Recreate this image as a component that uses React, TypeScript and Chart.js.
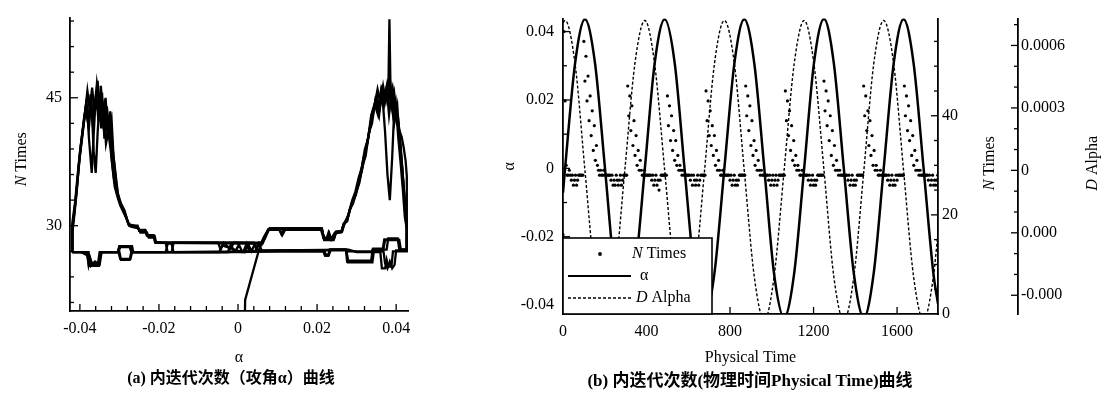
import { useEffect, useRef } from "react";
import { Chart, registerables } from "chart.js";

Chart.register(...registerables);

const SERIF = '"Liberation Serif", "Times New Roman", "DejaVu Serif", serif';
const CAPTION_FONT = '"Liberation Serif", "Noto Sans CJK SC", serif';

// ================= (a) N Times vs alpha =================
const alphaTickValuesA = [-0.04, -0.02, 0, 0.02, 0.04];
const alphaTickLabelsA = ["-0.04", "-0.02", "0", "0.02", "0.04"];
const nTickValuesA = [30, 45];

// [alpha, N Times] read along the trajectory, cycle by cycle
const loop0: [number, number][] = [
  [0.0016, 15], [0.0018, 21.3], [0.0055, 27.5], [0.0062, 27.9], [0.0069, 28.6], [0.0078, 29.6], [0.0104, 29.6],
  [0.011, 29.0], [0.0117, 29.6], [0.0212, 29.6], [0.0218, 28.5], [0.024, 28.5], [0.0246, 29.2], [0.0262, 29.3],
  [0.0267, 30.2], [0.0276, 30.5], [0.0282, 31.8], [0.029, 32.8], [0.0298, 33.6], [0.0306, 35.2], [0.0314, 36.6],
  [0.0322, 38.6], [0.033, 40.5], [0.0338, 42.6], [0.0346, 44.2], [0.0354, 43.0], [0.0361, 45.6], [0.0368, 44.0],
  [0.0375, 46.0], [0.038, 45.0], [0.0383, 54.2], [0.0386, 45.2], [0.0392, 43.0], [0.0399, 44.5], [0.0405, 40.5],
  [0.0411, 37.5], [0.0417, 34.2], [0.0422, 31.0], [0.0427, 29.6], [0.0427, 27.2],
  [0.041, 27.2], [0.0406, 28.4], [0.037, 28.4], [0.0366, 27.2], [0.034, 27.2], [0.0337, 25.8], [0.0276, 25.8],
  [0.0273, 27.2], [0.0232, 27.2], [0.0228, 26.5], [0.022, 26.5], [0.0216, 27.0], [0.005, 27.0], [0.0042, 27.8],
  [0.0034, 27.0], [0.0026, 27.8], [0.0018, 26.9], [-0.0163, 26.9], [-0.0168, 27.9], [-0.0178, 27.9], [-0.0183, 26.9],
  [-0.0265, 26.9], [-0.0268, 27.6], [-0.03, 27.6], [-0.0304, 26.9], [-0.0345, 26.9], [-0.035, 25.4], [-0.0375, 25.4],
  [-0.038, 26.9], [-0.0419, 26.9],
];
const loop1: [number, number][] = [
  [-0.0419, 26.9], [-0.0419, 29.8], [-0.0414, 31.6], [-0.0406, 35.2], [-0.04, 38.6], [-0.0393, 41.2], [-0.0386, 43.6],
  [-0.0379, 42.0], [-0.0373, 45.4], [-0.0367, 41.6], [-0.0361, 44.6], [-0.0355, 47.0], [-0.035, 43.2], [-0.0344, 45.6],
  [-0.0338, 40.2], [-0.0332, 44.0], [-0.0326, 41.6], [-0.032, 42.6], [-0.0315, 38.2], [-0.031, 36.2], [-0.0304, 33.8],
  [-0.0296, 32.6], [-0.0287, 31.8], [-0.028, 30.6], [-0.0275, 30.1], [-0.0256, 29.8], [-0.0249, 29.5], [-0.0235, 29.5],
  [-0.0231, 28.9], [-0.0214, 28.9], [-0.021, 28.1], [-0.0183, 28.0], [-0.0178, 26.9], [-0.0168, 26.9], [-0.0163, 28.0],
  [-0.005, 28.0], [-0.0044, 27.2], [-0.0036, 28.0], [-0.002, 27.3], [-0.001, 28.0], [0.006, 27.9], [0.0068, 28.6],
  [0.0078, 29.6], [0.0104, 29.6], [0.011, 29.0], [0.0117, 29.6], [0.0212, 29.6], [0.0218, 28.4], [0.0226, 28.4],
  [0.0231, 29.1], [0.0236, 28.4], [0.0246, 29.2], [0.0262, 29.4], [0.0268, 30.3], [0.0276, 30.6], [0.0283, 31.9],
  [0.0291, 32.6], [0.0299, 33.9], [0.0307, 35.0], [0.0315, 37.0], [0.0323, 38.2], [0.0331, 40.9], [0.0339, 42.0],
  [0.0347, 44.6], [0.0355, 43.2], [0.0362, 45.8], [0.0369, 44.2], [0.0376, 46.2], [0.0382, 43.0], [0.0389, 45.8],
  [0.0396, 42.2], [0.0403, 44.0], [0.0409, 39.8], [0.0415, 36.8], [0.0421, 33.0], [0.0427, 30.2], [0.0427, 27.0],
  [0.0392, 27.0], [0.0388, 25.2], [0.038, 25.2], [0.0376, 26.0], [0.0372, 25.0], [0.0364, 25.0], [0.036, 26.9],
  [0.03, 26.9], [0.028, 27.2], [0.0235, 27.2], [0.023, 26.6], [0.0222, 26.6], [0.0218, 27.1], [0.006, 27.1],
  [0.0052, 27.9], [0.0044, 27.0], [0.001, 27.0], [0.0002, 27.8], [-0.0006, 27.0], [-0.017, 26.9], [-0.027, 26.9],
  [-0.0274, 26.0], [-0.0296, 26.0], [-0.03, 26.9], [-0.035, 26.9], [-0.0354, 25.6], [-0.037, 25.6], [-0.0374, 26.2],
  [-0.0378, 25.4], [-0.0382, 26.9], [-0.0419, 26.9],
];
const loop2: [number, number][] = [
  [-0.0419, 26.9], [-0.0419, 30.4], [-0.0412, 32.8], [-0.0404, 36.8], [-0.0397, 39.6], [-0.039, 42.4], [-0.0383, 44.6],
  [-0.0377, 40.2], [-0.037, 36.2], [-0.0365, 40.8], [-0.0359, 45.8], [-0.0353, 42.2], [-0.0347, 46.4], [-0.0341, 42.8],
  [-0.0335, 45.0], [-0.0329, 40.6], [-0.0323, 43.4], [-0.0318, 39.6], [-0.0313, 37.2], [-0.0308, 35.0], [-0.0302, 33.2],
  [-0.0293, 32.0], [-0.0284, 31.2], [-0.0278, 30.4], [-0.0272, 29.9], [-0.0252, 29.7], [-0.0247, 29.2], [-0.023, 29.2],
  [-0.0226, 28.6], [-0.0212, 28.6], [-0.0208, 28.0], [0.004, 28.0], [0.0046, 27.3], [0.0054, 28.0], [0.0062, 28.0],
  [0.007, 28.8], [0.008, 29.7], [0.0212, 29.7], [0.0218, 28.3], [0.0242, 28.3], [0.0248, 29.3], [0.0263, 29.3],
  [0.027, 30.4], [0.0279, 31.2], [0.0287, 32.5], [0.0295, 33.4], [0.0303, 34.6], [0.0311, 36.2], [0.0319, 38.0],
  [0.0327, 39.6], [0.0335, 41.8], [0.0343, 43.4], [0.0351, 45.2], [0.0358, 43.6], [0.0365, 45.4], [0.0372, 41.0],
  [0.0378, 36.0], [0.0384, 33.0], [0.039, 38.0], [0.0396, 44.6], [0.0402, 42.0], [0.0408, 41.2], [0.0414, 40.4],
  [0.0419, 39.2], [0.0424, 37.6], [0.0427, 35.8], [0.0427, 27.2],
  [0.0412, 27.2], [0.0408, 28.3], [0.0372, 28.3], [0.0368, 27.3], [0.0342, 27.3], [0.0338, 25.9], [0.0278, 25.9],
  [0.0274, 27.1], [0.015, 27.1], [0.001, 26.9], [-0.004, 27.7], [-0.0048, 26.9], [-0.012, 26.9], [-0.027, 26.9],
  [-0.0274, 27.5], [-0.0298, 27.5], [-0.0302, 26.9], [-0.0346, 26.9], [-0.0352, 25.5], [-0.0362, 25.8],
  [-0.0372, 25.3], [-0.0378, 26.9], [-0.0419, 26.9],
];
const loop3: [number, number][] = [
  [-0.0419, 26.9], [-0.0419, 29.2], [-0.0415, 30.8], [-0.0408, 34.0], [-0.0402, 37.4], [-0.0395, 40.0], [-0.0388, 42.8],
  [-0.0381, 45.8], [-0.0375, 43.6], [-0.0369, 46.2], [-0.0363, 43.0], [-0.0357, 46.6], [-0.0351, 44.4], [-0.0346, 41.4],
  [-0.034, 43.8], [-0.0334, 39.6], [-0.0328, 41.0], [-0.0322, 38.8], [-0.0317, 36.6], [-0.0312, 34.6], [-0.0305, 33.4],
  [-0.0298, 32.4], [-0.029, 31.6], [-0.0282, 30.8], [-0.0276, 30.0], [-0.0254, 30.0], [-0.025, 29.4], [-0.0233, 29.4],
  [-0.0229, 28.8], [-0.0213, 28.8], [-0.0209, 28.0], [0.0058, 27.9], [0.0066, 28.7], [0.0076, 29.5], [0.0106, 29.5],
  [0.0112, 28.9], [0.0119, 29.5], [0.021, 29.5], [0.0216, 28.6], [0.0238, 28.6], [0.0244, 29.1], [0.0261, 29.2],
  [0.0266, 30.0], [0.0274, 30.6], [0.0281, 31.6], [0.0289, 33.0], [0.0297, 34.0], [0.0305, 35.6], [0.0313, 36.8],
  [0.0321, 39.0], [0.0329, 40.2], [0.0337, 43.0], [0.0345, 44.0], [0.0353, 46.0], [0.036, 44.4], [0.0367, 46.4],
  [0.0374, 44.6], [0.0381, 46.4], [0.0388, 44.0], [0.0395, 45.6], [0.0401, 43.2], [0.0407, 41.6], [0.0413, 38.0],
  [0.0419, 34.6], [0.0424, 31.8], [0.0427, 29.8], [0.0427, 27.1],
  [0.04, 27.1], [0.0396, 25.4], [0.039, 25.0], [0.0384, 25.8], [0.0378, 25.0], [0.0372, 25.6], [0.0368, 27.0],
  [0.0276, 27.0], [0.027, 27.2], [0.0232, 27.2], [0.0229, 26.5], [0.0221, 26.5], [0.0217, 27.0], [0.003, 27.0],
  [0.0022, 27.9], [0.0014, 27.0], [-0.003, 26.9], [-0.0268, 26.9], [-0.0272, 26.1], [-0.0298, 26.1], [-0.0302, 26.9],
  [-0.0347, 26.9], [-0.0352, 25.3], [-0.0377, 25.3], [-0.0382, 26.9], [-0.0419, 26.9],
];
const loop4: [number, number][] = [
  [-0.0419, 26.9], [-0.0419, 29.6], [-0.0413, 32.0], [-0.0405, 35.8], [-0.0398, 39.2], [-0.0391, 41.8], [-0.0384, 44.2],
  [-0.0377, 41.6], [-0.0371, 44.8], [-0.0365, 38.6], [-0.036, 36.2], [-0.0355, 41.0], [-0.0349, 45.2], [-0.0343, 42.4],
  [-0.0337, 44.8], [-0.0331, 41.2], [-0.0325, 42.0], [-0.0319, 37.6], [-0.0314, 35.6], [-0.0308, 34.2], [-0.03, 32.8],
  [-0.0291, 31.9], [-0.0283, 31.0], [-0.0277, 30.2], [-0.0255, 29.9], [-0.0249, 29.4], [-0.0234, 29.4], [-0.023, 28.8],
  [-0.0211, 28.8], [-0.0207, 28.0], [0.0059, 28.0], [0.0067, 28.7], [0.0077, 29.6], [0.0212, 29.6], [0.0217, 28.5],
  [0.0224, 28.5], [0.0229, 29.2], [0.0234, 28.5], [0.0243, 28.5], [0.0249, 29.3], [0.0263, 29.3], [0.0269, 30.2],
  [0.0277, 30.8], [0.0285, 32.2], [0.0293, 33.2], [0.0301, 34.4], [0.0309, 35.8], [0.0317, 37.8], [0.0325, 39.4],
  [0.0333, 41.2], [0.0341, 43.6], [0.0349, 44.8], [0.0357, 43.0], [0.0364, 46.0], [0.0371, 45.0], [0.0378, 46.6],
  [0.0384, 45.0], [0.0391, 46.2], [0.0398, 43.8], [0.0405, 42.6], [0.0411, 39.6], [0.0417, 36.0], [0.0422, 32.8],
  [0.0427, 30.4], [0.0427, 27.2],
  [0.0408, 27.2], [0.0404, 28.5], [0.038, 28.5], [0.0376, 27.2], [0.0344, 27.2], [0.034, 25.7], [0.0278, 25.7],
  [0.0274, 27.2], [0.01, 27.1], [-0.001, 27.0], [-0.0018, 27.8], [-0.0026, 26.9], [-0.0268, 26.9], [-0.0272, 27.6],
  [-0.03, 27.6], [-0.0304, 26.9], [-0.0348, 26.9], [-0.0352, 25.6], [-0.037, 25.6], [-0.0376, 26.4], [-0.0396, 26.9],
];
const loopsA = [loop0, loop1, loop2, loop3, loop4];

// ================= (b) vs Physical Time =================
const timeTickValues = [0, 400, 800, 1200, 1600];
const alphaTickValuesB = [-0.04, -0.02, 0, 0.02, 0.04];
const alphaTickLabelsB = ["-0.04", "-0.02", "0", "0.02", "0.04"];
const nTickValuesB = [0, 20, 40];
const dAlphaTickValues = [-0.0006, -0.0003, 0, 0.0003, 0.0006];
const dAlphaTickLabels = ["-0.000", "0.000", "0", "0.0003", "0.0006"];

const sampleTimes = [
  0, 10, 58, 105, 153, 201, 248, 296, 344, 392, 439, 487, 535, 582, 630, 678, 725, 773, 821, 868,
  916, 964, 1011, 1059, 1107, 1155, 1202, 1250, 1297, 1345, 1393, 1441, 1488, 1536, 1584, 1631, 1679, 1727, 1774, 1796,
];
const alphaSeries = [
  -0.0071, 0.0, 0.0308, 0.0436, 0.0309, 0.0001, -0.0308, -0.0436, -0.0308, 0.0, 0.0307, 0.0436, 0.0308, 0.0, -0.0308,
  -0.0437, -0.0308, 0.0001, 0.0308, 0.0436, 0.0308, 0.0, -0.0309, -0.0436, -0.0308, 0.0, 0.0308, 0.0437, 0.0308,
  -0.0001, -0.0308, -0.0436, -0.0307, 0.0, 0.0308, 0.0436, 0.0308, 0.0, -0.0308, -0.0396,
];
const dAlphaSeries = [
  0.00071, 0.00072, 0.00051, 0.0, -0.00051, -0.00072, -0.00051, 0.0, 0.00051, 0.00072, 0.00051, 0.0, -0.00051,
  -0.00072, -0.00051, 0.0, 0.00051, 0.00072, 0.00051, 0.0, -0.00051, -0.00072, -0.00051, 0.0, 0.00051, 0.00072,
  0.00051, 0.0, -0.00051, -0.00072, -0.00051, 0.0, 0.00051, 0.00072, 0.00051, 0.0, -0.00051, -0.00072, -0.00051,
  -0.0003,
];
const nTimesStep = 5;
const nTimesSeries = [
  16, 57, 43, 30, 28, 28, 29, 28, 27, 28, 26, 27, 28, 26, 27, 28, 28, 28, 28, 28,
  55, 47, 52, 43, 48, 39, 44, 36, 41, 33, 38, 31, 34, 30, 29,
  28, 29, 28, 28, 29, 28, 28, 28, 28, 28, 28, 27, 28, 26, 27, 26, 28, 27, 26, 27, 28, 26, 27, 28, 28, 28, 28,
  46, 40, 44, 37, 42, 34, 39, 32, 36, 30, 33, 29, 31, 29,
  28, 28, 29, 28, 28, 28, 28, 28, 28, 27, 28, 26, 27, 28, 26, 27, 25, 27, 28, 28, 28, 28, 28, 28,
  44, 38, 42, 35, 40, 33, 37, 31, 35, 30, 32, 29, 30, 29,
  28, 29, 28, 28, 28, 28, 28, 28, 27, 28, 26, 28, 27, 26, 27, 28, 26, 27, 28, 28, 28, 28, 28,
  45, 39, 43, 36, 41, 34, 38, 32, 36, 30, 33, 29, 31, 29,
  28, 28, 29, 28, 28, 28, 28, 28, 28, 27, 28, 26, 27, 28, 26, 27, 26, 27, 28, 28, 28, 28, 28, 28,
  46, 40, 44, 37, 42, 34, 39, 32, 35, 30, 33, 29, 31, 29,
  28, 29, 28, 28, 28, 28, 28, 28, 27, 28, 26, 27, 28, 26, 27, 28, 26, 27, 28, 28, 28, 28, 28, 28,
  45, 39, 43, 36, 41, 33, 38, 31, 35, 30, 32, 29, 30, 29,
  28, 28, 29, 28, 28, 28, 28, 28, 27, 28, 26, 27, 28, 26, 27, 26, 27, 28, 28, 28, 28, 28, 28,
  47, 41, 45, 38, 43, 35, 40, 32, 37, 30, 34, 29, 31, 29,
  28, 29, 28, 28, 28, 28, 28, 28, 28, 27, 28, 26, 27, 28, 26, 27, 26, 27, 28, 28, 28, 28, 28, 28,
  46, 40, 44, 37, 41, 34, 39, 32, 36, 30, 33, 29, 30, 29,
  28, 28, 29, 28, 28, 28, 28, 28, 28, 27, 28, 26, 27, 28, 26, 27, 26, 28, 27, 28, 28, 28, 28, 28, 28,
  46, 40, 44, 37, 42, 35, 39, 32, 36, 30, 33, 29, 31, 29,
  28, 29, 28, 28, 28, 28, 28, 28, 28, 27, 28, 26, 27, 28, 26, 27, 26, 27, 28,
];

// ================= helpers =================
type Part = { text: string; italic?: boolean };

function drawParts(ctx: CanvasRenderingContext2D, parts: Part[], x: number, y: number, size: number, rotate: boolean, align: "center" | "left") {
  ctx.save();
  ctx.translate(x, y);
  if (rotate) ctx.rotate(-Math.PI / 2);
  const fonts = parts.map((p) => `${p.italic ? "italic " : ""}${size}px ${SERIF}`);
  let w = 0;
  parts.forEach((p, i) => {
    ctx.font = fonts[i];
    w += ctx.measureText(p.text).width;
  });
  let cx = align === "center" ? -w / 2 : 0;
  ctx.textBaseline = "middle";
  ctx.textAlign = "left";
  ctx.fillStyle = "#000";
  parts.forEach((p, i) => {
    ctx.font = fonts[i];
    ctx.fillText(p.text, cx, 0);
    cx += ctx.measureText(p.text).width;
  });
  ctx.restore();
}

function steps(from: number, to: number, step: number, skip: number[]) {
  const out: number[] = [];
  const n = Math.round((to - from) / step);
  for (let i = 0; i <= n; i++) {
    const v = +(from + i * step).toFixed(8);
    if (!skip.some((s) => Math.abs(s - v) < step / 10)) out.push(v);
  }
  return out;
}

type TickSpec = { id: string; major: number[]; minor: number[]; majorLen: number; minorLen: number; side: number };

function drawTickMarks(chart: any, specs: TickSpec[]) {
  const ctx: CanvasRenderingContext2D = chart.ctx;
  ctx.save();
  ctx.strokeStyle = "#000";
  ctx.lineWidth = 1.3;
  for (const s of specs) {
    const sc = chart.scales[s.id];
    const horiz = sc.isHorizontal();
    const base = horiz ? sc.top : sc.position === "left" ? sc.right : sc.left;
    const mark = (v: number, len: number) => {
      if (v < sc.min || v > sc.max) return;
      const p = sc.getPixelForValue(v);
      ctx.beginPath();
      if (horiz) {
        ctx.moveTo(p, base);
        ctx.lineTo(p, base + s.side * len);
      } else {
        ctx.moveTo(base, p);
        ctx.lineTo(base + s.side * len, p);
      }
      ctx.stroke();
    };
    s.major.forEach((v) => mark(v, s.majorLen));
    s.minor.forEach((v) => mark(v, s.minorLen));
  }
  ctx.restore();
}

const tickFont = { family: SERIF, size: 16 };
const titleFont = { family: SERIF, size: 16 };
const border = { display: true, color: "#000", width: 1.8 };
const noGrid = { display: false, drawTicks: false };

function fixedTicks(values: number[]) {
  return (axis: any) => {
    axis.ticks = values.map((v) => ({ value: v }));
  };
}

// ================= chart (a) =================
function configA(): any {
  const specs: TickSpec[] = [
    { id: "x", major: alphaTickValuesA, minor: steps(-0.044, 0.044, 0.004, alphaTickValuesA), majorLen: 7, minorLen: 5, side: -1 },
    { id: "y", major: nTickValuesA, minor: steps(21, 54, 3, nTickValuesA), majorLen: 8, minorLen: 4, side: 1 },
  ];
  return {
    type: "scatter",
    data: {
      datasets: loopsA.map((loop) => ({
        data: loop.map(([a, n]) => ({ x: a, y: n })),
        showLine: true,
        pointRadius: 0,
        borderColor: "#000",
        borderWidth: 2.3,
        tension: 0,
      })),
    },
    options: {
      responsive: false,
      animation: false,
      devicePixelRatio: 1,
      events: [],
      layout: { padding: { top: 8, right: 32, left: 0, bottom: 0 } },
      plugins: { legend: { display: false }, tooltip: { enabled: false } },
      scales: {
        x: {
          type: "linear",
          min: -0.0425,
          max: 0.043,
          afterBuildTicks: fixedTicks(alphaTickValuesA),
          afterFit: (s: any) => {
            s.height = 59;
          },
          ticks: {
            callback: (_v: any, i: number) => alphaTickLabelsA[i],
            font: tickFont,
            color: "#000",
            padding: 8,
            maxRotation: 0,
            autoSkip: false,
          },
          grid: noGrid,
          border,
          title: { display: true, text: "α", font: titleFont, color: "#000", padding: { top: 0, bottom: 3 } },
        },
        y: {
          type: "linear",
          min: 20,
          max: 54.4,
          afterBuildTicks: fixedTicks(nTickValuesA),
          afterFit: (s: any) => {
            s.width = 70;
          },
          ticks: {
            callback: (v: any) => String(v),
            font: tickFont,
            color: "#000",
            padding: 8,
            autoSkip: false,
          },
          grid: noGrid,
          border,
        },
      },
    },
    plugins: [
      {
        id: "decorA",
        afterDraw(chart: any) {
          drawTickMarks(chart, specs);
          const ca = chart.chartArea;
          drawParts(chart.ctx, [{ text: "N", italic: true }, { text: " Times" }], 22, (ca.top + ca.bottom) / 2 - 5, 16, true, "center");
        },
      },
    ],
  };
}

// ================= chart (b) =================
function configB(): any {
  const specs: TickSpec[] = [
    { id: "x", major: timeTickValues.slice(1), minor: [], majorLen: 7, minorLen: 4, side: -1 },
    { id: "y", major: alphaTickValuesB, minor: [-0.03, -0.01, 0.01, 0.03], majorLen: 7, minorLen: 4, side: 1 },
    { id: "y1", major: [20, 40], minor: steps(5, 55, 5, [20, 40]), majorLen: 7, minorLen: 4, side: -1 },
    { id: "y2", major: dAlphaTickValues, minor: steps(-0.0005, 0.0007, 0.0001, dAlphaTickValues), majorLen: 7, minorLen: 4, side: -1 },
  ];
  return {
    type: "scatter",
    data: {
      datasets: [
        {
          label: "N Times",
          data: nTimesSeries.map((n, i) => ({ x: i * nTimesStep, y: n })),
          yAxisID: "y1",
          showLine: false,
          pointRadius: 1.6,
          pointBorderWidth: 0,
          pointBackgroundColor: "#000",
        },
        {
          label: "α",
          data: sampleTimes.map((t, i) => ({ x: t, y: alphaSeries[i] })),
          yAxisID: "y",
          showLine: true,
          pointRadius: 0,
          borderColor: "#000",
          borderWidth: 2.5,
          cubicInterpolationMode: "monotone",
        },
        {
          label: "D Alpha",
          data: sampleTimes.map((t, i) => ({ x: t, y: dAlphaSeries[i] })),
          yAxisID: "y2",
          showLine: true,
          pointRadius: 0,
          borderColor: "#000",
          borderWidth: 1.4,
          borderDash: [3, 2],
          cubicInterpolationMode: "monotone",
        },
      ],
    },
    options: {
      responsive: false,
      animation: false,
      devicePixelRatio: 1,
      events: [],
      layout: { padding: { top: 16, right: 0, left: 0, bottom: 0 } },
      elements: { line: { capBezierPoints: false } },
      plugins: { legend: { display: false }, tooltip: { enabled: false } },
      scales: {
        x: {
          type: "linear",
          min: 0,
          max: 1796,
          afterBuildTicks: fixedTicks(timeTickValues),
          afterFit: (s: any) => {
            s.height = 56;
          },
          ticks: { callback: (v: any) => String(v), font: tickFont, color: "#000", padding: 8, maxRotation: 0, autoSkip: false },
          grid: noGrid,
          border,
          title: { display: true, text: "Physical Time", font: titleFont, color: "#000", padding: { top: 0, bottom: 3 } },
        },
        y: {
          type: "linear",
          position: "left",
          min: -0.0426,
          max: 0.0438,
          afterBuildTicks: fixedTicks(alphaTickValuesB),
          afterFit: (s: any) => {
            s.width = 63;
          },
          ticks: { callback: (_v: any, i: number) => alphaTickLabelsB[i], font: tickFont, color: "#000", padding: 9, autoSkip: false },
          grid: noGrid,
          border,
          title: { display: true, text: "α", font: titleFont, color: "#000", padding: { top: 0, bottom: 0 } },
        },
        y1: {
          type: "linear",
          position: "right",
          min: 0,
          max: 59.6,
          afterBuildTicks: fixedTicks(nTickValuesB),
          afterFit: (s: any) => {
            s.width = 80;
          },
          ticks: { callback: (v: any) => String(v), font: tickFont, color: "#000", padding: 4, autoSkip: false },
          grid: noGrid,
          border,
        },
        y2: {
          type: "linear",
          position: "right",
          min: -0.00069,
          max: 0.000729,
          afterBuildTicks: fixedTicks(dAlphaTickValues),
          afterFit: (s: any) => {
            s.width = 93;
          },
          ticks: { callback: (_v: any, i: number) => dAlphaTickLabels[i], font: tickFont, color: "#000", padding: 3, autoSkip: false },
          grid: noGrid,
          border,
        },
      },
    },
    plugins: [
      {
        id: "decorB",
        afterDraw(chart: any) {
          const ctx: CanvasRenderingContext2D = chart.ctx;
          drawTickMarks(chart, specs);
          const ca = chart.chartArea;
          const midY = (ca.top + ca.bottom) / 2 - 3;
          drawParts(ctx, [{ text: "N", italic: true }, { text: " Times" }], chart.scales.y1.left + 52, midY, 16, true, "center");
          drawParts(ctx, [{ text: "D", italic: true }, { text: " Alpha" }], chart.scales.y2.left + 75, midY, 16, true, "center");

          // legend box
          const bw = 149;
          const bh = 76;
          const bx = ca.left;
          const by = ca.bottom - bh;
          ctx.save();
          ctx.fillStyle = "#fff";
          ctx.fillRect(bx, by, bw, bh);
          ctx.strokeStyle = "#000";
          ctx.lineWidth = 1.6;
          ctx.strokeRect(bx, by, bw, bh);
          ctx.fillStyle = "#000";
          ctx.beginPath();
          ctx.arc(bx + 37, by + 16, 1.9, 0, Math.PI * 2);
          ctx.fill();
          ctx.lineWidth = 2.2;
          ctx.beginPath();
          ctx.moveTo(bx + 5, by + 38);
          ctx.lineTo(bx + 68, by + 38);
          ctx.stroke();
          ctx.lineWidth = 1.3;
          ctx.setLineDash([3, 2]);
          ctx.beginPath();
          ctx.moveTo(bx + 5, by + 60);
          ctx.lineTo(bx + 68, by + 60);
          ctx.stroke();
          ctx.restore();
          drawParts(ctx, [{ text: "N", italic: true }, { text: " Times" }], bx + 69, by + 16, 16, false, "left");
          drawParts(ctx, [{ text: "α" }], bx + 77, by + 38, 16, false, "left");
          drawParts(ctx, [{ text: "D", italic: true }, { text: " Alpha" }], bx + 73, by + 60, 16, false, "left");
        },
      },
    ],
  };
}

export default function App() {
  const leftRef = useRef<HTMLCanvasElement>(null);
  const rightRef = useRef<HTMLCanvasElement>(null);

  useEffect(() => {
    const a = new Chart(leftRef.current as HTMLCanvasElement, configA());
    const b = new Chart(rightRef.current as HTMLCanvasElement, configB());
    return () => {
      a.destroy();
      b.destroy();
    };
  }, []);

  const captionStyle: any = {
    position: "absolute",
    textAlign: "center",
    fontFamily: CAPTION_FONT,
    fontWeight: "bold",
    lineHeight: "18px",
    height: 18,
    color: "#000",
    whiteSpace: "nowrap",
  };

  return (
    <div style={{ position: "absolute", left: 0, top: 0, width: 1111, height: 397, background: "#fff", overflow: "hidden" }}>
      <canvas ref={leftRef} width={440} height={370} style={{ position: "absolute", left: 0, top: 0, width: 440, height: 370 }} />
      <canvas ref={rightRef} width={611} height={370} style={{ position: "absolute", left: 500, top: 0, width: 611, height: 370 }} />
      <div style={{ ...captionStyle, fontSize: 16, left: 76, width: 310, top: 369 }}>(a) 内迭代次数（攻角α）曲线</div>
      <div style={{ ...captionStyle, fontSize: 17, left: 550, width: 400, top: 372 }}>(b) 内迭代次数(物理时间Physical Time)曲线</div>
    </div>
  );
}
